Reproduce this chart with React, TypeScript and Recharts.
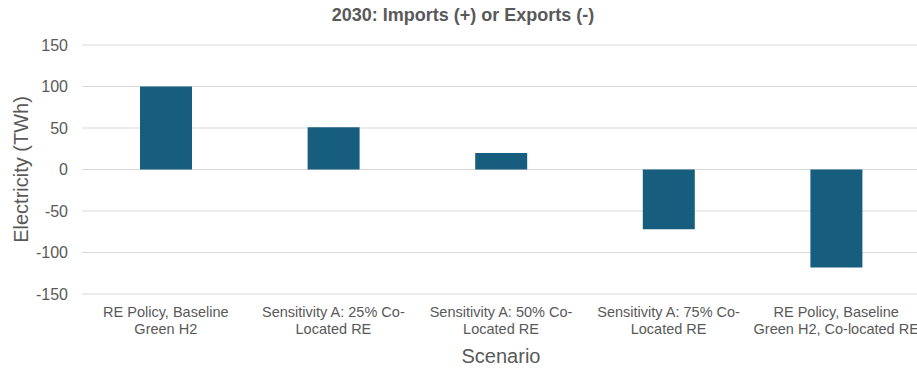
import { BarChart, Bar, XAxis, YAxis, CartesianGrid, Label } from 'recharts';

const scenarios = [
  'RE Policy, Baseline Green H2',
  'Sensitivity A: 25% Co-Located RE',
  'Sensitivity A: 50% Co-Located RE',
  'Sensitivity A: 75% Co-Located RE',
  'RE Policy, Baseline Green H2, Co-located RE',
];

// how each scenario label wraps on the axis
const tickLines: string[][] = [
  ['RE Policy, Baseline', 'Green H2'],
  ['Sensitivity A: 25% Co-', 'Located RE'],
  ['Sensitivity A: 50% Co-', 'Located RE'],
  ['Sensitivity A: 75% Co-', 'Located RE'],
  ['RE Policy, Baseline', 'Green H2, Co-located RE'],
];

const netImports = [100, 51, 20, -72, -118];

const yTicks = [150, 100, 50, 0, -50, -100, -150];

const data = scenarios.map((s, i) => ({ scenario: s, value: netImports[i] }));

const TEXT = '#595959';
const FONT = 'Arial, "Liberation Sans", Helvetica, sans-serif';

function ScenarioTick(props: any) {
  const { x, y, index } = props;
  const lines = tickLines[index] ?? [];
  return (
    <g transform={`translate(${x},${y})`}>
      {lines.map((l, i) => (
        <text
          key={i}
          x={0}
          y={i * 16.5}
          dy={15}
          textAnchor="middle"
          fill={TEXT}
          fontSize={14.5}
          fontFamily={FONT}
        >
          {l}
        </text>
      ))}
    </g>
  );
}

export default function App() {
  return (
    <div style={{ width: 917, height: 369, overflow: 'hidden', position: 'relative', background: '#fff' }}>
      <style>{'body{margin:0}'}</style>
      <div
        style={{
          position: 'absolute',
          top: 5,
          left: 0,
          width: 926,
          textAlign: 'center',
          fontFamily: FONT,
          fontWeight: 'bold',
          fontSize: 18,
          color: TEXT,
          zIndex: 1,
        }}
      >
        2030: Imports (+) or Exports (-)
      </div>
      <BarChart
        width={920}
        height={369}
        data={data}
        margin={{ top: 45, right: 0, bottom: 25, left: 0 }}
      >
        <CartesianGrid vertical={false} stroke="#d9d9d9" />
        <XAxis
          dataKey="scenario"
          interval={0}
          tick={<ScenarioTick />}
          tickLine={false}
          axisLine={false}
          height={50}
        >
          <Label
            value="Scenario"
            position="bottom"
            offset={5}
            fill={TEXT}
            fontSize={20}
            fontFamily={FONT}
          />
        </XAxis>
        <YAxis
          width={82}
          domain={[-150, 150]}
          ticks={yTicks}
          tickLine={false}
          axisLine={false}
          tickMargin={8}
          tick={{ fill: TEXT, fontSize: 16, fontFamily: FONT }}
        >
          <Label
            value="Electricity (TWh)"
            angle={-90}
            position="insideLeft"
            offset={21}
            style={{ textAnchor: 'middle' }}
            fill={TEXT}
            fontSize={20}
            fontFamily={FONT}
          />
        </YAxis>
        <Bar dataKey="value" fill="#175e7e" barSize={52} isAnimationActive={false} />
      </BarChart>
    </div>
  );
}
